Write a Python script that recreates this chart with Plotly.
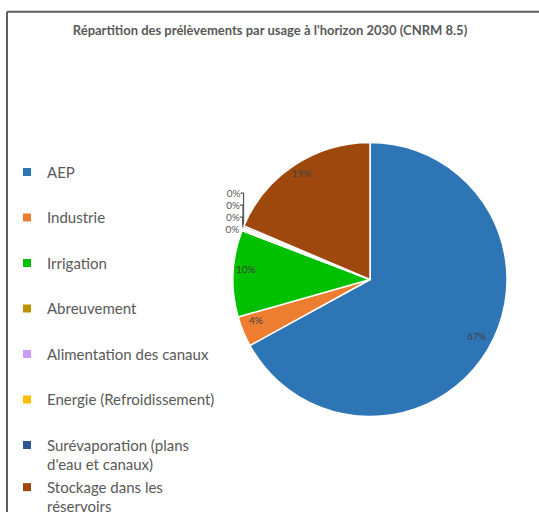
import math
import plotly.graph_objects as go

W, H = 539, 523

title_text = "Répartition des prélèvements par usage à l'horizon 2030 (CNRM 8.5)"
categories = ["AEP", "Industrie", "Irrigation", "Abreuvement",
              "Alimentation des canaux", "Energie (Refroidissement)",
              "Surévaporation (plans<br>d'eau et canaux)",
              "Stockage dans les<br>réservoirs"]
values = [67.0, 3.6, 10.2, 0.2, 0.1, 0.1, 0.2, 18.6]
colors = ["#2E75B6", "#ED7D31", "#00C000", "#BF9000",
          "#CC99FF", "#FFC000", "#2F5597", "#9E480E"]
outside_label = [False, False, False, True, True, True, True, False]

FONT = "Lato"
GRAY = "#595959"

# pie placement (pixels)
CX, CY, R = 370, 280, 137.5
# domain box (plotly draws the pie slightly inside / above its domain box)
DCX, DCY, DR = 370, 285.5, 140

fig = go.Figure()

fig.add_trace(go.Pie(
    labels=categories, values=values, sort=False, direction="clockwise",
    rotation=0,
    marker=dict(colors=colors, line=dict(color="white", width=1.5)),
    texttemplate=["%{percent:.0%}" if o else "" for o in outside_label],
    textposition=["outside" if o else "inside" for o in outside_label],
    outsidetextfont=dict(family=FONT, size=10, color=GRAY),
    showlegend=False, hoverinfo="label+percent",
    domain=dict(x=[(DCX - DR) / W, (DCX + DR) / W],
                y=[1 - (DCY + DR) / H, 1 - (DCY - DR) / H]),
))

# inside percentage labels placed along each slice's mid-angle
total = sum(values)
annotations = []
cum = 0.0
for v, o in zip(values, outside_label):
    mid = (cum + v / 2) / total * 2 * math.pi
    cum += v
    if o:
        continue
    rr = 0.9 * R
    px = CX + rr * math.sin(mid)
    py = CY - rr * math.cos(mid)
    annotations.append(dict(
        x=px / W, y=1 - py / H, xref="paper", yref="paper",
        text=f"{round(v / total * 100)}%", showarrow=False,
        xanchor="center", yanchor="middle",
        font=dict(family=FONT, size=10, color="#404040")))

# legend entries
for i, (name, col) in enumerate(zip(categories, colors)):
    fig.add_trace(go.Scatter(
        x=[None], y=[None], mode="markers", name=name,
        marker=dict(symbol="square", size=8, color=col),
        legendgroup=name, showlegend=True,
        legend="legend2" if i == 7 else "legend",
    ))

fig.update_layout(
    width=W, height=H,
    margin=dict(l=0, r=0, t=0, b=0),
    paper_bgcolor="white", plot_bgcolor="white",
    xaxis=dict(visible=False), yaxis=dict(visible=False),
    title=dict(text="<b>" + title_text + "</b>", x=270 / W, xanchor="center",
               y=1 - 30 / H, yanchor="middle",
               font=dict(family=FONT, size=13, color=GRAY)),
    legend=dict(x=7 / W, xanchor="left", y=1 - 159 / H, yanchor="top",
                tracegroupgap=23, valign="top",
                font=dict(family=FONT, size=15, color=GRAY),
                bgcolor="rgba(0,0,0,0)"),
    legend2=dict(x=7 / W, xanchor="left", y=1 - 481 / H, yanchor="top",
                 valign="top",
                 font=dict(family=FONT, size=15, color=GRAY),
                 bgcolor="rgba(0,0,0,0)"),
    annotations=annotations,
    shapes=[
        dict(type="line", xref="paper", yref="paper",
             x0=7 / W, x1=1.0, y0=1 - 12 / H, y1=1 - 12 / H,
             line=dict(color="#5f5f5f", width=2)),
        dict(type="line", xref="paper", yref="paper",
             x0=7 / W, x1=7 / W, y0=0, y1=1 - 12 / H,
             line=dict(color="#5f5f5f", width=2)),
    ],
)

fig.write_html("out.html",
               config={"displayModeBar": False},
               post_script="document.body.style.margin='0';"
                           "document.body.style.padding='0';")
